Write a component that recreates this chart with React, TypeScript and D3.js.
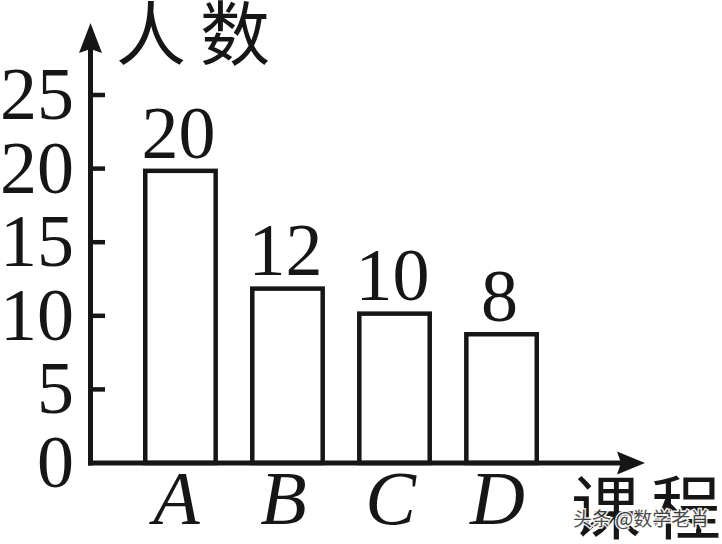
import React from "react";
import * as d3 from "d3";

const categories = ["A", "B", "C", "D"];
// labelled counts
const counts = [20, 12, 10, 8];
// bar heights as drawn in the original (not exactly to scale)
const drawnHeights = [20, 12, 10.3, 8.9];
const yTicks = [0, 5, 10, 15, 20, 25];
const yTitle = "人数";
const xTitle = "课程";
const watermark = "头条 @数学老肖";

const W = 722;
const H = 544;
const INK = "#161616";
const SERIF = "'Liberation Serif', 'Times New Roman', serif";
const CJK = "'Noto Sans CJK SC', sans-serif";

export default function App() {
  const originX = 90.5;
  const y = d3.scaleLinear().domain([0, 25]).range([463, 95]);
  const x = d3
    .scaleBand<string>()
    .domain(categories)
    .range([143, 539])
    .paddingInner(0.3)
    .paddingOuter(0);
  const y0 = y(0);
  const sw = 4.5;

  const xArrowTip = 645;
  const yArrowTip = 23;

  return (
    <div style={{ position: "absolute", left: 0, top: 0 }}>
      <svg width={W} height={H} viewBox={`0 0 ${W} ${H}`} style={{ display: "block", background: "#fff" }}>
        <rect x={0} y={0} width={W} height={H} fill="#fff" />
        {/* bars */}
        {categories.map((c, i) => {
          const bx = (x(c) as number) + sw / 2;
          const bw = x.bandwidth() - sw;
          const top = y(drawnHeights[i]) + sw / 2;
          return (
            <rect
              key={c}
              x={bx}
              y={top}
              width={bw}
              height={y0 - top}
              fill="#fff"
              stroke={INK}
              strokeWidth={sw}
            />
          );
        })}
        {/* value labels */}
        {categories.map((c, i) => (
          <text
            key={"v" + c}
            x={(x(c) as number) + x.bandwidth() / 2 - 2}
            y={y(drawnHeights[i]) - 11}
            textAnchor="middle"
            fontFamily={SERIF}
            fontSize={74}
            fill={INK}
          >
            {counts[i]}
          </text>
        ))}
        {/* y ticks */}
        {yTicks.map((t) => (
          <g key={"t" + t}>
            {t !== 0 && (
              <line x1={originX} x2={105} y1={y(t)} y2={y(t)} stroke={INK} strokeWidth={4.5} />
            )}
            <text
              x={74}
              y={y(t) + 24}
              textAnchor="end"
              fontFamily={SERIF}
              fontSize={74}
              fill={INK}
            >
              {t}
            </text>
          </g>
        ))}
        {/* axes */}
        <line x1={originX} x2={originX} y1={y0 + 2.5} y2={yArrowTip + 20} stroke={INK} strokeWidth={5} />
        <path
          d={`M${originX},${yArrowTip} L${originX + 11.5},${yArrowTip + 30} L${originX},${yArrowTip + 26} L${originX - 11.5},${yArrowTip + 30} Z`}
          fill={INK}
        />
        <line x1={originX - 2.5} x2={xArrowTip - 20} y1={y0} y2={y0} stroke={INK} strokeWidth={5} />
        <path
          d={`M${xArrowTip},${y0} L${xArrowTip - 28},${y0 - 11.5} L${xArrowTip - 24},${y0} L${xArrowTip - 28},${y0 + 11.5} Z`}
          fill={INK}
        />
        {/* category labels */}
        {categories.map((c) => (
          <text
            key={"c" + c}
            x={(x(c) as number) + x.bandwidth() / 2 - 4}
            y={524}
            textAnchor="middle"
            fontFamily={SERIF}
            fontStyle="italic"
            fontSize={76}
            fill={INK}
          >
            {c}
          </text>
        ))}
        {/* axis titles */}
        <text x={116} y={60} fontFamily={CJK} fontSize={70} letterSpacing={14} fill={INK}>
          {yTitle}
        </text>
        <text x={571} y={534} fontFamily={CJK} fontSize={70} letterSpacing={10} fill={INK}>
          {xTitle}
        </text>
        {/* watermark */}
        <text
          x={573}
          y={526}
          fontFamily={CJK}
          fontSize={19}
          fill="#3a3a3a"
          stroke="#fff"
          strokeWidth={3}
          paintOrder="stroke"
          opacity={0.9}
        >
          {watermark}
        </text>
      </svg>
    </div>
  );
}
